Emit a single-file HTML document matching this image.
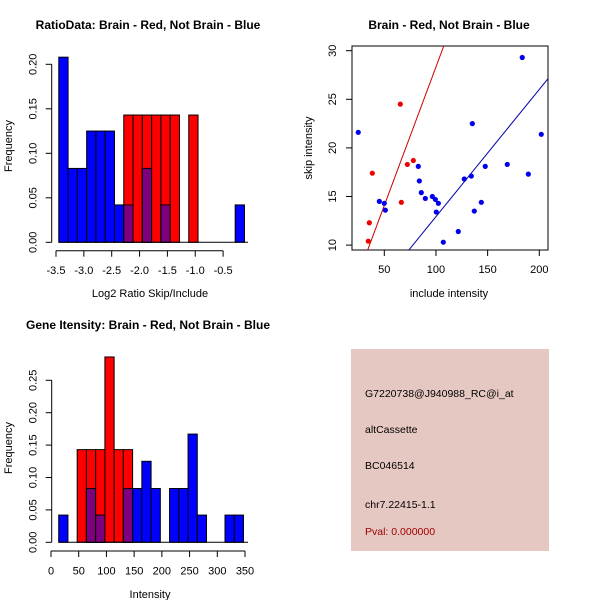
<!DOCTYPE html>
<html><head><meta charset="utf-8"><style>
body{margin:0;background:#fff}
svg{display:block;font-family:"Liberation Sans",sans-serif}
text{font-size:11px;fill:#000}
.t{font-weight:bold;font-size:12px}
.info text{font-size:10.5px}
</style></head><body>
<svg id="s" width="600" height="600" viewBox="0 0 600 600">
<rect width="600" height="600" fill="#fff"/>
<g id="p1"></g>
<g id="p2"></g>
<g id="p3"></g>
<g class="info">
<rect x="351" y="349" width="198" height="202" fill="#e6c8c2"/>
<text x="365" y="397">G7220738@J940988_RC@i_at</text>
<text x="365" y="433">altCassette</text>
<text x="365" y="469">BC046514</text>
<text x="365" y="508">chr7.22415-1.1</text>
<text x="365" y="535" style="fill:#a00000">Pval: 0.000000</text>
</g>
</svg>
<script>
// ---- Plot 1 data
const ratioBinStart = -3.45, ratioBinWidth = 1/6;
const ratioBlue = [0.208,0.083,0.083,0.125,0.125,0.125,0.042,0.042,0,0.083,0,0.042,0,0,0,0,0,0,0,0.042];
const ratioRed  = [0,0,0,0,0,0,0,0.143,0.143,0.143,0.143,0.143,0.143,0,0.143,0,0,0,0,0];
const ratioXTicks = [-3.5,-3.0,-2.5,-2.0,-1.5,-1.0,-0.5];
const ratioYTicks = ["0.00","0.05","0.10","0.15","0.20"];
// ---- Plot 2 data
const blueInclude = [24.8,45.2,50,51,82.9,83.9,85.8,89.7,96.5,99.4,102.3,100.3,107.1,121.6,127.4,134.2,135.2,137.1,143.9,147.7,169,183.5,189.4,201.9];
const blueSkip    = [21.6,14.5,14.3,13.6,18.1,16.6,15.4,14.8,15.0,14.7,14.3,13.4,10.3,11.4,16.8,17.1,22.5,13.5,14.4,18.1,18.3,29.3,17.3,21.4];
const redInclude = [65.5,38.4,35.5,34.5,66.5,72.3,78.1];
const redSkip    = [24.5,17.4,12.3,10.4,14.4,18.3,18.7];
const redFit = [-0.17,0.285];   // intercept, slope
const blueFit = [-0.16,0.1309];
const scXTicks = [50,100,150,200];
const scYTicks = [10,15,20,25,30];
// ---- Plot 3 data
const intBinStart = 13.9, intBinWidth = 50/3;
const intBlue = [0.042,0,0,0.083,0.042,0,0,0.083,0.083,0.125,0.083,0,0.083,0.083,0.167,0.042,0,0,0.042,0.042];
const intRed  = [0,0,0.143,0.143,0.143,0.286,0.143,0.143,0,0,0,0,0,0,0,0,0,0,0,0];
const intXTicks = [0,50,100,150,200,250,300,350];
const intYTicks = ["0.00","0.05","0.10","0.15","0.20","0.25"];

const NS="http://www.w3.org/2000/svg";
function mk(parent,tag,attrs){const e=document.createElementNS(NS,tag);for(const k in attrs)e.setAttribute(k,attrs[k]);parent.appendChild(e);return e;}

function hist(g,o){
  const X=v=>o.x0+(v-o.xv0)*o.kx, Y=v=>o.y0-v*o.ky;
  const n=o.blue.length;
  for(let i=0;i<n;i++){
    const a=o.start+i*o.w,b=a+o.w;
    const layers=[[o.blue[i],'#0000ff','blue'],[o.red[i],'#ff0000','red']];
    if(o.blue[i]>0&&o.red[i]>0)layers.push([Math.min(o.blue[i],o.red[i]),'#7f007f','overlap']);
    for(const [v,c,nm] of layers){
      if(v<=0)continue;
      const r=mk(g,'rect',{x:X(a),y:Y(v),width:X(b)-X(a),height:Y(0)-Y(v),fill:c,stroke:'#000','stroke-width':1});
      
      
    }
  }
  const bl=mk(g,'line',{x1:X(o.start),x2:o.baseEnd,y1:Y(0),y2:Y(0),stroke:'#000'});
  
  
  const ax=mk(g,'g',{});
  
  
  const xt=o.xticks;
  mk(ax,'line',{x1:X(xt[0]),x2:X(xt[xt.length-1]),y1:o.axY,y2:o.axY,stroke:'#000'});
  xt.forEach(t=>{mk(ax,'line',{x1:X(t),x2:X(t),y1:o.axY,y2:o.axY+6,stroke:'#000'});
    const tx=mk(ax,'text',{x:X(t),y:o.axY+23.5,'text-anchor':'middle'});tx.textContent=o.fmt(t);
    
    });
  const ay=mk(g,'g',{});
  
  
  const yt=o.yticks;
  mk(ay,'line',{x1:o.axX,x2:o.axX,y1:Y(0),y2:Y(parseFloat(yt[yt.length-1])),stroke:'#000'});
  yt.forEach(t=>{const y=Y(parseFloat(t));mk(ay,'line',{x1:o.axX-6,x2:o.axX,y1:y,y2:y,stroke:'#000'});
    const lx=o.axX-15;
    const tx=mk(ay,'text',{x:lx,y:y,'text-anchor':'middle',transform:`rotate(-90 ${lx} ${y})`});tx.textContent=t;
    
    });
  const lab=(txt,x,y,rot,cls,name)=>{const t=mk(g,'text',{x:x,y:y,'text-anchor':'middle'});if(rot)t.setAttribute('transform',`rotate(-90 ${x} ${y})`);if(cls)t.setAttribute('class',cls);t.textContent=txt;
    
    };
  lab(o.title,148,o.titleY,false,'t','chart-title');
  lab(o.xlab,150,o.xlabY,false,null,'x-axis-title');
  lab('Frequency',12,o.ylabY,true,null,'y-axis-title');
}

hist(document.getElementById('p1'),{x0:56,xv0:-3.5,kx:55.7,y0:242.3,ky:890,start:ratioBinStart,w:ratioBinWidth,
  blue:ratioBlue,red:ratioRed,baseEnd:248,axY:250.7,axX:51.7,xticks:ratioXTicks,yticks:ratioYTicks,
  fmt:t=>t.toFixed(1),title:'RatioData: Brain - Red, Not Brain - Blue',titleY:29,xlab:'Log2 Ratio Skip/Include',xlabY:297,ylabY:146});
hist(document.getElementById('p3'),{x0:51,xv0:0,kx:0.5543,y0:542.3,ky:648,start:intBinStart,w:intBinWidth,
  blue:intBlue,red:intRed,baseEnd:248,axY:551,axX:51.7,xticks:intXTicks,yticks:intYTicks,
  fmt:t=>String(t),title:'Gene Itensity: Brain - Red, Not Brain - Blue',titleY:329,xlab:'Intensity',xlabY:598,ylabY:448});

(function(){
  const g=document.getElementById('p2');
  const X=v=>384.3+(v-50)*1.0333, Y=v=>50.7+(30-v)*9.72;
  const L=352,R=548,T=46,B=250;
  const cp=mk(g,'clipPath',{id:'clip'});mk(cp,'rect',{x:L,y:T,width:R-L,height:B-T});
  const box=mk(g,'rect',{x:L,y:T,width:R-L,height:B-T,fill:'none',stroke:'#000'});
  
  
  const fit=(f,c,nm)=>{const xa=0,xb=260;const l=mk(g,'line',{x1:X(xa),y1:Y(f[0]+f[1]*xa),x2:X(xb),y2:Y(f[0]+f[1]*xb),stroke:c,'clip-path':'url(#clip)'});
    
    };
  fit(redFit,'#cc0000','red-fit-line');
  fit(blueFit,'#0000aa','blue-fit-line');
  blueInclude.forEach((v,i)=>{const c=mk(g,'circle',{cx:X(v),cy:Y(blueSkip[i]),r:2.6,fill:'#0000ee'});
    
    });
  redInclude.forEach((v,i)=>{const c=mk(g,'circle',{cx:X(v),cy:Y(redSkip[i]),r:2.6,fill:'#ee0000'});
    
    });
  scXTicks.forEach(t=>{mk(g,'line',{x1:X(t),x2:X(t),y1:B,y2:B+6,stroke:'#000'});
    const tx=mk(g,'text',{x:X(t),y:B+23,'text-anchor':'middle'});tx.textContent=t;
    
    });
  scYTicks.forEach(t=>{const y=Y(t);mk(g,'line',{x1:L-6,x2:L,y1:y,y2:y,stroke:'#000'});
    const lx=L-16;
    const tx=mk(g,'text',{x:lx,y:y,'text-anchor':'middle',transform:`rotate(-90 ${lx} ${y})`});tx.textContent=t;
    
    });
  const t1=mk(g,'text',{x:449,y:29,'text-anchor':'middle',class:'t'});t1.textContent='Brain - Red, Not Brain - Blue';
  
  
  const t2=mk(g,'text',{x:449,y:297,'text-anchor':'middle'});t2.textContent='include intensity';
  
  
  const t3=mk(g,'text',{x:312,y:148,'text-anchor':'middle',transform:'rotate(-90 312 148)'});t3.textContent='skip intensity';
  
  
})();
</script>
</body></html>
